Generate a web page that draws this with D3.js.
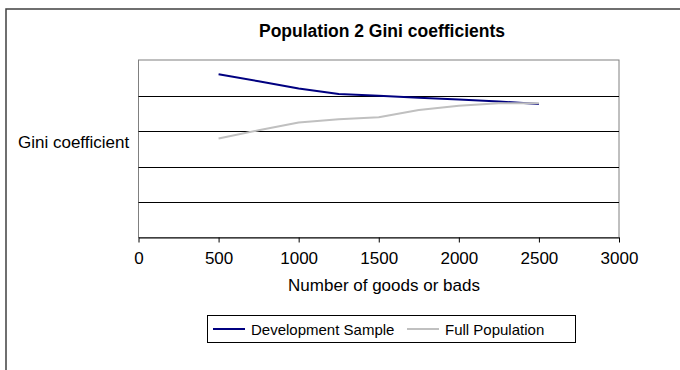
<!DOCTYPE html>
<html>
<head>
<meta charset="utf-8">
<script src="https://cdn.jsdelivr.net/npm/d3@7"></script>
<style>
  html, body { margin: 0; padding: 0; background: #fff; }
  svg { display: block; font-family: "Liberation Sans", Arial, sans-serif; }
</style>
</head>
<body>
<svg id="chart" width="680" height="370"></svg>
<script>
// Sample sizes (number of goods or bads) and Gini coefficients per sample
const sampleSizes = [500, 750, 1000, 1250, 1500, 1750, 2000, 2250, 2500];
const developmentSample = [0.460, 0.440, 0.420, 0.404, 0.399, 0.394, 0.389, 0.383, 0.376];
const fullPopulation = [0.279, 0.302, 0.324, 0.333, 0.339, 0.359, 0.371, 0.378, 0.378];
const xTicks = [0, 500, 1000, 1500, 2000, 2500, 3000];
const yGrid = [0.1, 0.2, 0.3, 0.4];
const seriesNames = ["Development Sample", "Full Population"];
const seriesColors = ["#000080", "#c0c0c0"];

const svg = d3.select("#chart");
const plot = { left: 138.5, right: 619, top: 60, bottom: 237.5 };

const x = d3.scaleLinear().domain([0, 3000]).range([plot.left, plot.right]);
const y = d3.scaleLinear().domain([0, 0.5]).range([plot.bottom, plot.top]);

// outer chart frame
svg.append("rect")
  .attr("x", 6).attr("y", 9)
  .attr("width", 690).attr("height", 380)
  .attr("fill", "#fff").attr("stroke", "#404040").attr("stroke-width", 1.5);

// title
svg.append("text")
  .attr("x", 382).attr("y", 37)
  .attr("text-anchor", "middle")
  .attr("font-size", 17.5).attr("font-weight", "bold")
  .text("Population 2 Gini coefficients");

// plot area border
svg.append("rect")
  .attr("x", plot.left).attr("y", plot.top)
  .attr("width", plot.right - plot.left).attr("height", plot.bottom - plot.top)
  .attr("fill", "#fff").attr("stroke", "#808080").attr("stroke-width", 1);

// horizontal gridlines
svg.append("g").selectAll("line").data(yGrid).join("line")
  .attr("x1", plot.left).attr("x2", plot.right)
  .attr("y1", d => Math.round(y(d)) + 0.5).attr("y2", d => Math.round(y(d)) + 0.5)
  .attr("stroke", "#000").attr("stroke-width", 1);

// x axis
const xAxis = svg.append("g")
  .attr("transform", `translate(0,${plot.bottom})`)
  .call(d3.axisBottom(x).tickValues(xTicks).tickSize(5).tickSizeOuter(0).tickPadding(9)
    .tickFormat(d3.format("d")));
xAxis.select(".domain").attr("stroke", "#000");
xAxis.selectAll(".tick line").attr("stroke", "#000");
xAxis.selectAll("text").attr("font-size", 17).attr("fill", "#000")
  .attr("font-family", "Liberation Sans, Arial, sans-serif");

// axis titles
svg.append("text")
  .attr("x", 384).attr("y", 291)
  .attr("text-anchor", "middle").attr("font-size", 17)
  .text("Number of goods or bads");
svg.append("text")
  .attr("x", 18).attr("y", 148)
  .attr("font-size", 17)
  .text("Gini coefficient");

// series lines
const line = d3.line()
  .x((d, i) => x(sampleSizes[i]))
  .y(d => y(d));
[developmentSample, fullPopulation].forEach((vals, k) => {
  svg.append("path")
    .datum(vals)
    .attr("d", line)
    .attr("fill", "none")
    .attr("stroke", seriesColors[k])
    .attr("stroke-width", 2)
    .attr("stroke-linejoin", "round");
});

// legend
const legend = svg.append("g");
legend.append("rect")
  .attr("x", 207.5).attr("y", 315.5).attr("width", 368).attr("height", 27)
  .attr("fill", "#fff").attr("stroke", "#000").attr("stroke-width", 1);
const legendX = [213, 407];
seriesNames.forEach((name, k) => {
  legend.append("line")
    .attr("x1", legendX[k]).attr("x2", legendX[k] + 32)
    .attr("y1", 329).attr("y2", 329)
    .attr("stroke", seriesColors[k]).attr("stroke-width", 2);
  legend.append("text")
    .attr("x", legendX[k] + 38).attr("y", 334.5)
    .attr("font-size", 15)
    .text(name);
});
</script>
</body>
</html>
